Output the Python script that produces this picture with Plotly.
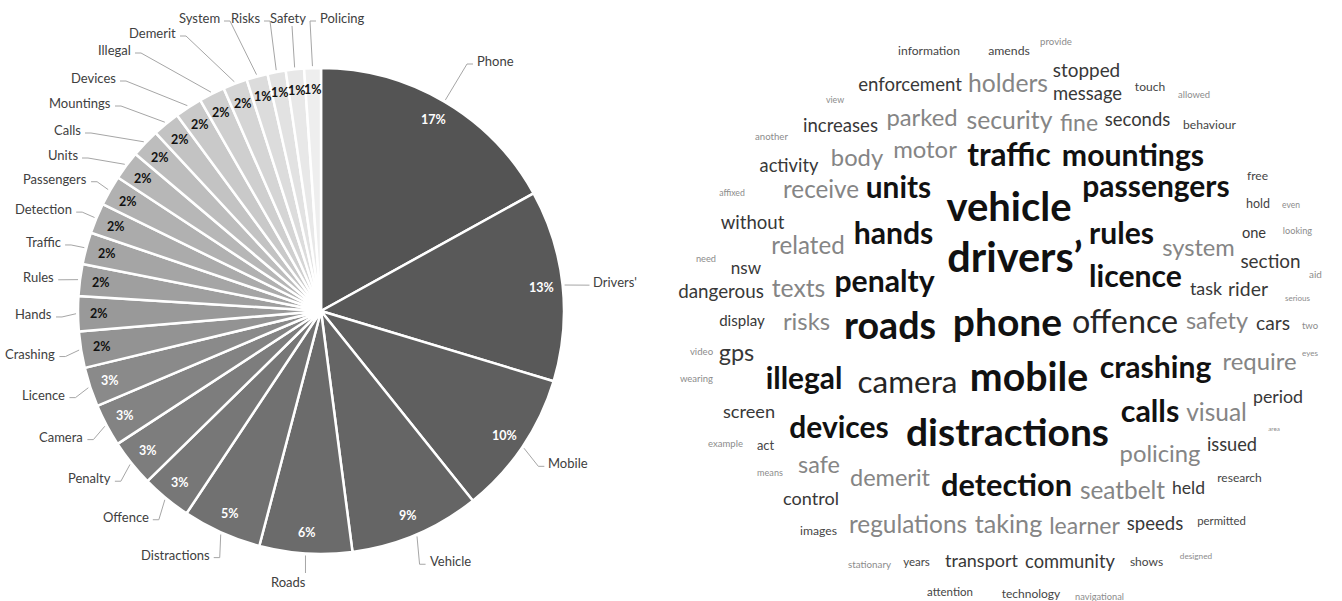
import math
import plotly.graph_objects as go

W, H = 1342, 601

# ---------------- Pie data ----------------
categories = ["Phone", "Drivers'", "Mobile", "Vehicle", "Roads", "Distractions",
              "Offence", "Penalty", "Camera", "Licence", "Crashing", "Hands",
              "Rules", "Traffic", "Detection", "Passengers", "Units", "Calls",
              "Mountings", "Devices", "Illegal", "Demerit", "System", "Risks",
              "Safety", "Policing"]
shares = [16.8, 12.6, 9.5, 8.6, 6.1, 5.2,
          3.3, 3.1, 2.8, 2.6, 2.4, 2.3,
          2.1, 2.1, 2.0, 2.0, 1.9, 1.9,
          1.8, 1.8, 1.7, 1.6, 1.4, 1.2,
          1.2, 1.1]
slice_colors = ["#545454", "#595959", "#5f5f5f", "#656565", "#6b6b6b", "#717171",
                "#777777", "#7d7d7d", "#838383", "#8a8a8a", "#939393", "#999999",
                "#9f9f9f", "#a5a5a5", "#ababab", "#b1b1b1", "#b7b7b7", "#bdbdbd",
                "#c3c3c3", "#c9c9c9", "#cfcfcf", "#d5d5d5", "#dcdcdc", "#e2e2e2",
                "#e8e8e8", "#eeeeee"]

# ---------------- Word cloud data ----------------
cloud_words = ["information", "amends", "provide", "enforcement", "holders", "stopped",
               "message", "touch", "allowed", "view", "increases", "parked", "security",
               "fine", "seconds", "behaviour", "another", "activity", "body", "motor",
               "traffic", "mountings", "affixed", "receive", "units", "vehicle",
               "passengers", "free", "hold", "even", "without", "related", "hands",
               "rules", "system", "one", "looking", "drivers’", "need", "nsw", "licence",
               "section", "aid", "dangerous", "texts", "penalty", "task", "rider",
               "serious", "display", "risks", "roads", "phone", "offence", "safety",
               "cars", "two", "video", "gps", "wearing", "illegal", "camera", "mobile",
               "crashing", "require", "eyes", "screen", "devices", "distractions",
               "calls", "visual", "period", "area", "example", "act", "safe", "means",
               "policing", "issued", "demerit", "detection", "seatbelt", "held",
               "research", "control", "regulations", "taking", "learner", "speeds",
               "permitted", "images", "stationary", "years", "transport", "community",
               "shows", "designed", "attention", "technology", "navigational"]

# ---------------- Layout / style (kept separate from data) ----------------
CX, CY, R = 321, 311, 243          # pie centre / radius in pixels
PCT_R = 222                        # radius for percentage labels
LABEL_R_LEFT = 267                 # default radius for category labels (left half)
LABEL_R_RIGHT = 272                # default radius for category labels (right half)
LINE_COLOR = "#a6a6a6"
LABEL_COLOR = "#404040"
FONT = "Lato"

# label placement overrides for crowded labels: (x, y, side)
label_override = {
    "Phone": (475, 61, "left"),
    "Roads": (308, 582, "right"),
    "Units": (80, 155, "right"),
    "Calls": (83, 130, "right"),
    "Mountings": (113, 103, "right"),
    "Devices": (118, 78, "right"),
    "Illegal": (133, 50, "right"),
    "Demerit": (178, 33, "right"),
    "System": (222, 18, "right"),
    "Risks": (262, 18, "right"),
    "Safety": (308, 18, "right"),
    "Policing": (318, 18, "left"),
}
bottom_attach = {"Safety"}

# word cloud layout: word -> (x_left, x_right, y_center, colour class)
K, D2, D, G, SD, TL = "#111111", "#262626", "#383838", "#858585", "#454545", "#8c8c8c"
cloud_layout = {
    "information": (898, 960, 52, SD), "amends": (988, 1030, 52, SD),
    "provide": (1040, 1072, 43, TL), "enforcement": (858, 962, 86, D),
    "holders": (968, 1048, 86, G), "stopped": (1053, 1120, 72, D),
    "message": (1053, 1122, 95, D), "touch": (1135, 1165, 88, SD),
    "allowed": (1178, 1210, 96, TL), "view": (826, 844, 101, TL),
    "increases": (803, 878, 127, D), "parked": (886, 958, 120, G),
    "security": (967, 1052, 123, G), "fine": (1060, 1098, 125, G),
    "seconds": (1105, 1170, 121, D), "behaviour": (1183, 1236, 126, SD),
    "another": (755, 788, 138, TL), "activity": (760, 818, 167, D),
    "body": (831, 883, 160, G), "motor": (893, 957, 152, G),
    "traffic": (966, 1052, 158, K), "mountings": (1060, 1206, 158, K),
    "affixed": (719, 745, 194, TL), "receive": (783, 859, 192, G),
    "units": (865, 932, 191, K), "vehicle": (945, 1073, 211, K),
    "passengers": (1080, 1232, 190, K), "free": (1247, 1268, 177, SD),
    "hold": (1246, 1270, 205, SD), "even": (1282, 1300, 206, TL),
    "without": (721, 784, 224, D), "related": (771, 845, 248, G),
    "hands": (852, 935, 236, K), "rules": (1088, 1155, 236, K),
    "system": (1162, 1235, 250, G), "one": (1242, 1266, 234, D),
    "looking": (1283, 1312, 232, TL), "drivers’": (945, 1085, 262, K),
    "need": (696, 716, 260, TL), "nsw": (731, 761, 270, D),
    "licence": (1088, 1183, 279, K), "section": (1241, 1300, 263, D),
    "aid": (1309, 1322, 276, TL), "dangerous": (678, 764, 293, D),
    "texts": (772, 825, 291, G), "penalty": (833, 936, 284, K),
    "task": (1190, 1222, 291, D), "rider": (1228, 1268, 291, D),
    "serious": (1285, 1310, 299, TL), "display": (719, 765, 322, D),
    "risks": (783, 830, 324, G), "roads": (842, 938, 330, K),
    "phone": (951, 1064, 326, K), "offence": (1072, 1178, 325, D2),
    "safety": (1186, 1248, 323, G), "cars": (1256, 1290, 325, D),
    "two": (1302, 1318, 327, TL), "video": (690, 713, 353, TL),
    "gps": (719, 754, 355, D), "wearing": (680, 713, 380, TL),
    "illegal": (765, 843, 382, K), "camera": (857, 958, 385, D2),
    "mobile": (968, 1090, 381, K), "crashing": (1098, 1213, 370, K),
    "require": (1222, 1297, 364, G), "eyes": (1302, 1318, 354, TL),
    "screen": (723, 775, 413, D), "devices": (788, 890, 431, K),
    "distractions": (904, 1111, 436, K), "calls": (1120, 1180, 414, K),
    "visual": (1186, 1247, 415, G), "period": (1253, 1303, 399, D),
    "area": (1268, 1280, 429, TL), "example": (708, 743, 445, TL),
    "act": (757, 774, 447, SD), "safe": (798, 840, 467, G),
    "means": (757, 783, 474, TL), "policing": (1120, 1200, 456, G),
    "issued": (1207, 1257, 446, D), "demerit": (850, 930, 480, G),
    "detection": (940, 1073, 488, K), "seatbelt": (1080, 1165, 493, G),
    "held": (1172, 1205, 490, D), "research": (1217, 1262, 479, SD),
    "control": (783, 839, 500, D), "regulations": (849, 967, 527, G),
    "taking": (975, 1042, 527, G), "learner": (1049, 1120, 528, G),
    "speeds": (1127, 1183, 525, D), "permitted": (1197, 1246, 522, SD),
    "images": (800, 837, 532, SD), "stationary": (848, 891, 566, TL),
    "years": (903, 930, 563, SD), "transport": (945, 1018, 563, D),
    "community": (1025, 1115, 563, D), "shows": (1130, 1163, 563, SD),
    "designed": (1180, 1212, 557, TL), "attention": (927, 973, 593, SD),
    "technology": (1002, 1060, 595, SD), "navigational": (1075, 1124, 598, TL),
}

# approximate Lato advance widths (em) used to size words to their box
CHAR_W = {"a": .51, "b": .56, "c": .46, "d": .56, "e": .52, "f": .33, "g": .50,
          "h": .56, "i": .24, "j": .24, "k": .50, "l": .24, "m": .84, "n": .56,
          "o": .56, "p": .56, "q": .56, "r": .37, "s": .43, "t": .35, "u": .56,
          "v": .51, "w": .77, "x": .49, "y": .51, "z": .45, "’": .22}
BOLD_FACTOR = 1.05


def text_em(word):
    return sum(CHAR_W.get(ch, .5) for ch in word)


fig = go.Figure()

# ---------------- Pie ----------------
fig.add_trace(go.Pie(
    labels=categories, values=shares, sort=False, direction="clockwise", rotation=0,
    marker=dict(colors=slice_colors, line=dict(color="white", width=2.5)),
    textinfo="none", hoverinfo="skip", showlegend=False,
    domain=dict(x=[(CX - R) / W, (CX + R) / W], y=[1 - (CY + R) / H, 1 - (CY - R) / H]),
))

total = sum(shares)
annotations = []
line_x, line_y = [], []
cum = 0.0
for cat, v, col in zip(categories, shares, slice_colors):
    theta = (cum + v / 2) / total * 2 * math.pi
    cum += v
    s, c = math.sin(theta), math.cos(theta)
    # percentage label inside slice
    pct = int(v / total * 100 + 0.5)
    lum = int(col[1:3], 16)
    annotations.append(dict(
        x=CX + PCT_R * s, y=CY - PCT_R * c, xref="x", yref="y",
        text=f"<b>{pct}%</b>", showarrow=False, xanchor="center", yanchor="middle",
        font=dict(family=FONT, size=12.5, color="white" if lum < 0x90 else "#111111")))
    # category label outside
    if cat in label_override:
        ax, ay, side = label_override[cat]
    else:
        right_half = theta < math.pi
        lr = LABEL_R_RIGHT if right_half else LABEL_R_LEFT
        ax, ay = CX + lr * s, CY - lr * c
        side = "left" if right_half else "right"
    annotations.append(dict(
        x=ax, y=ay, xref="x", yref="y", text=cat, showarrow=False,
        xanchor=side, yanchor="middle",
        font=dict(family=FONT, size=13, color=LABEL_COLOR)))
    # leader line
    px, py = CX + (R + 2) * s, CY - (R + 2) * c
    if cat in bottom_attach:
        pts = [(ax - 16, ay + 8), (px, py)]
    elif abs(theta - math.pi) < 0.12:
        pts = [(px, ay - 9), (px, py)]
    else:
        sg = 1 if side == "right" else -1
        pts = [(ax + 2 * sg, ay + 3), (ax + 8 * sg, ay + 3), (px, py)]
    for x_, y_ in pts:
        line_x.append(x_)
        line_y.append(y_)
    line_x.append(None)
    line_y.append(None)

fig.add_trace(go.Scatter(x=line_x, y=line_y, mode="lines",
                         line=dict(color=LINE_COLOR, width=1),
                         hoverinfo="skip", showlegend=False))

# ---------------- Word cloud ----------------
for bold in (False, True):
    wx, wy, wsize, wcol, wtxt = [], [], [], [], []
    for w in cloud_words:
        x0, x1, yc, colr = cloud_layout[w]
        if (colr == K) != bold:
            continue
        em = text_em(w) * (BOLD_FACTOR if bold else 1.0)
        wx.append((x0 + x1) / 2)
        wy.append(yc)
        wsize.append(max(6.0, (x1 - x0) / em))
        wcol.append(colr)
        wtxt.append(w)
    fig.add_trace(go.Scatter(
        x=wx, y=wy, mode="text", text=wtxt, textposition="middle center",
        textfont=dict(family=FONT, size=wsize, color=wcol,
                      weight="bold" if bold else "normal"),
        hoverinfo="skip", showlegend=False))

fig.update_layout(
    width=W, height=H, margin=dict(l=0, r=0, t=0, b=0),
    paper_bgcolor="white", plot_bgcolor="white",
    xaxis=dict(range=[0, W], visible=False, fixedrange=True),
    yaxis=dict(range=[H, 0], visible=False, fixedrange=True),
    annotations=annotations, hovermode=False, showlegend=False,
)

fig.write_html("out.html", config={"displayModeBar": False},
               post_script="document.body.style.margin='0';")
